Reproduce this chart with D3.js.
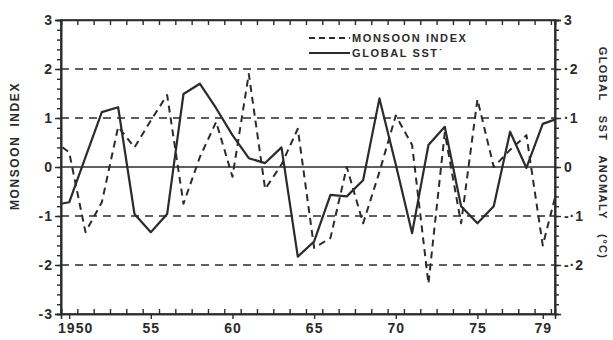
<!DOCTYPE html>
<html>
<head>
<meta charset="utf-8">
<script src="https://cdn.jsdelivr.net/npm/d3@7"></script>
<style>
  html, body { margin: 0; padding: 0; background: #fff; }
  svg { display: block; }
  text { font-family: "Liberation Sans", Arial, sans-serif; font-weight: bold; fill: #2b2b2b; }
</style>
</head>
<body>
<svg id="chart" width="613" height="340"></svg>
<script>
// ---- data ----
const years = d3.range(1949, 1981);
const monsoonIndex = [0.55, 0.3, -1.33, -0.72, 0.82, 0.4, 0.95, 1.47, -0.75, 0.2,
  0.92, -0.2, 1.9, -0.45, 0.05, 0.78, -1.65, -1.45, 0.0, -1.15,
  -0.1, 1.05, 0.45, -2.38, 0.7, -1.15, 1.38, 0.0, 0.35, 0.65,
  -1.6, -0.3];
const globalSST = [-0.078, -0.072, 0.02, 0.112, 0.122, -0.096, -0.133, -0.096, 0.149, 0.170,
  0.12, 0.065, 0.018, 0.008, 0.04, -0.183, -0.152, -0.057, -0.06, -0.027,
  0.14, 0.005, -0.135, 0.045, 0.082, -0.08, -0.115, -0.08, 0.072, -0.002,
  0.088, 0.10];
const leftTickValues = [-3, -2, -1, 0, 1, 2, 3];
const rightTickValues = [-0.2, -0.1, 0, 0.1, 0.2, 0.3];
const rightTickLabels = ["-\u00b72", "-\u00b71", "0", "\u00b71", "\u00b72", "3"];
const xTickYears = [1950, 1955, 1960, 1965, 1970, 1975, 1979];
const xTickLabels = ["1950", "55", "60", "65", "70", "75", "79"];
const gridValues = [-2, -1, 1, 2];
const legendLabels = ["MONSOON INDEX", "GLOBAL SST\u02d9"];

// ---- layout ----
const L = 61, R = 555, T = 20, B = 314;
const ink = "#2b2b2b";
const svg = d3.select("#chart");

const x = d3.scaleLinear().domain([1949.5, 1979.75]).range([L, R]);
const yL = d3.scaleLinear().domain([-3, 3]).range([B, T]);
const yR = d3.scaleLinear().domain([-0.3, 0.3]).range([B, T]);

svg.append("defs").append("clipPath").attr("id", "plotclip")
  .append("rect").attr("x", L).attr("y", T).attr("width", R - L).attr("height", B - T);

// gridlines
svg.append("g").selectAll("line").data(gridValues).join("line")
  .attr("x1", L).attr("x2", R).attr("y1", d => yL(d)).attr("y2", d => yL(d))
  .attr("stroke", ink).attr("stroke-width", 1.6).attr("stroke-dasharray", "8,6");
svg.append("line").attr("x1", L).attr("x2", R).attr("y1", yL(0)).attr("y2", yL(0))
  .attr("stroke", ink).attr("stroke-width", 1.6);

// frame
svg.append("rect").attr("x", L).attr("y", T).attr("width", R - L).attr("height", B - T)
  .attr("fill", "none").attr("stroke", ink).attr("stroke-width", 1.6);

// left axis
const leftAxis = d3.axisLeft(yL).tickValues(leftTickValues).tickSize(6).tickFormat(d => d < 0 ? "-" + Math.abs(d) : d);
const gL = svg.append("g").attr("transform", `translate(${L},0)`).call(leftAxis);
const leftMinor = d3.axisLeft(yL).tickValues(d3.range(-3, 3.01, 0.2)).tickSize(4).tickFormat("");
svg.append("g").attr("transform", `translate(${L},0)`).call(leftMinor);

// right axis
const rightAxis = d3.axisRight(yR).tickValues(rightTickValues).tickSize(6)
  .tickFormat((d, i) => rightTickLabels[i]);
const gR = svg.append("g").attr("transform", `translate(${R},0)`).call(rightAxis);
const rightMinor = d3.axisRight(yR).tickValues(d3.range(-0.3, 0.301, 0.02)).tickSize(4).tickFormat("");
svg.append("g").attr("transform", `translate(${R},0)`).call(rightMinor);

// bottom axis
const bottomAxis = d3.axisBottom(x).tickValues(xTickYears).tickSize(5).tickPadding(4)
  .tickFormat((d, i) => xTickLabels[i]);
const gB = svg.append("g").attr("transform", `translate(0,${B})`).call(bottomAxis);
const halfYears = d3.range(1949.5, 1980, 1);
svg.append("g").attr("transform", `translate(0,${B})`)
  .call(d3.axisTop(x).tickValues(halfYears).tickSize(5).tickFormat(""));
svg.append("g").attr("transform", `translate(0,${T})`)
  .call(d3.axisBottom(x).tickValues(halfYears).tickSize(5).tickFormat(""));

// style axes
svg.selectAll(".domain").attr("stroke", ink).attr("stroke-width", 1.6);
svg.selectAll(".tick line").attr("stroke", ink).attr("stroke-width", 1.4);
svg.selectAll(".tick text").attr("fill", ink).style("font-size", "14px").style("font-weight", "bold")
  .style("font-family", "'Liberation Sans', Arial, sans-serif").style("letter-spacing", "1px");
gL.selectAll(".tick text").attr("x", -8);
gB.selectAll(".tick text").attr("dx", (d, i) => i === 0 ? 6 : 0);

// lines
const lineM = d3.line().x((d, i) => x(years[i])).y(d => yL(d));
const lineS = d3.line().x((d, i) => x(years[i])).y(d => yR(d));
const plot = svg.append("g").attr("clip-path", "url(#plotclip)");
plot.append("path").datum(monsoonIndex).attr("d", lineM)
  .attr("fill", "none").attr("stroke", ink).attr("stroke-width", 2)
  .attr("stroke-dasharray", "7,5").attr("stroke-linejoin", "round");
plot.append("path").datum(globalSST).attr("d", lineS)
  .attr("fill", "none").attr("stroke", ink).attr("stroke-width", 2.2)
  .attr("stroke-linejoin", "round");

// legend
const lg = svg.append("g");
lg.append("line").attr("x1", 309).attr("x2", 350).attr("y1", 38).attr("y2", 38)
  .attr("stroke", ink).attr("stroke-width", 1.8).attr("stroke-dasharray", "6,4");
lg.append("line").attr("x1", 309).attr("x2", 350).attr("y1", 53).attr("y2", 53)
  .attr("stroke", ink).attr("stroke-width", 2);
lg.selectAll("text").data(legendLabels).join("text")
  .attr("x", 352).attr("y", (d, i) => 42 + i * 15)
  .style("font-size", "11px").style("letter-spacing", "1.6px").text(d => d);

// axis titles
svg.append("text").attr("transform", "translate(19,146) rotate(-90)")
  .attr("text-anchor", "middle").style("font-size", "12px").style("letter-spacing", "1.6px")
  .style("word-spacing", "4px").text("MONSOON INDEX");
svg.append("text").attr("transform", "translate(599,153) rotate(90)")
  .attr("text-anchor", "middle").style("font-size", "11px").style("letter-spacing", "1.4px")
  .style("word-spacing", "10px").text("GLOBAL SST ANOMALY (\u00b0C)");
</script>
</body>
</html>
